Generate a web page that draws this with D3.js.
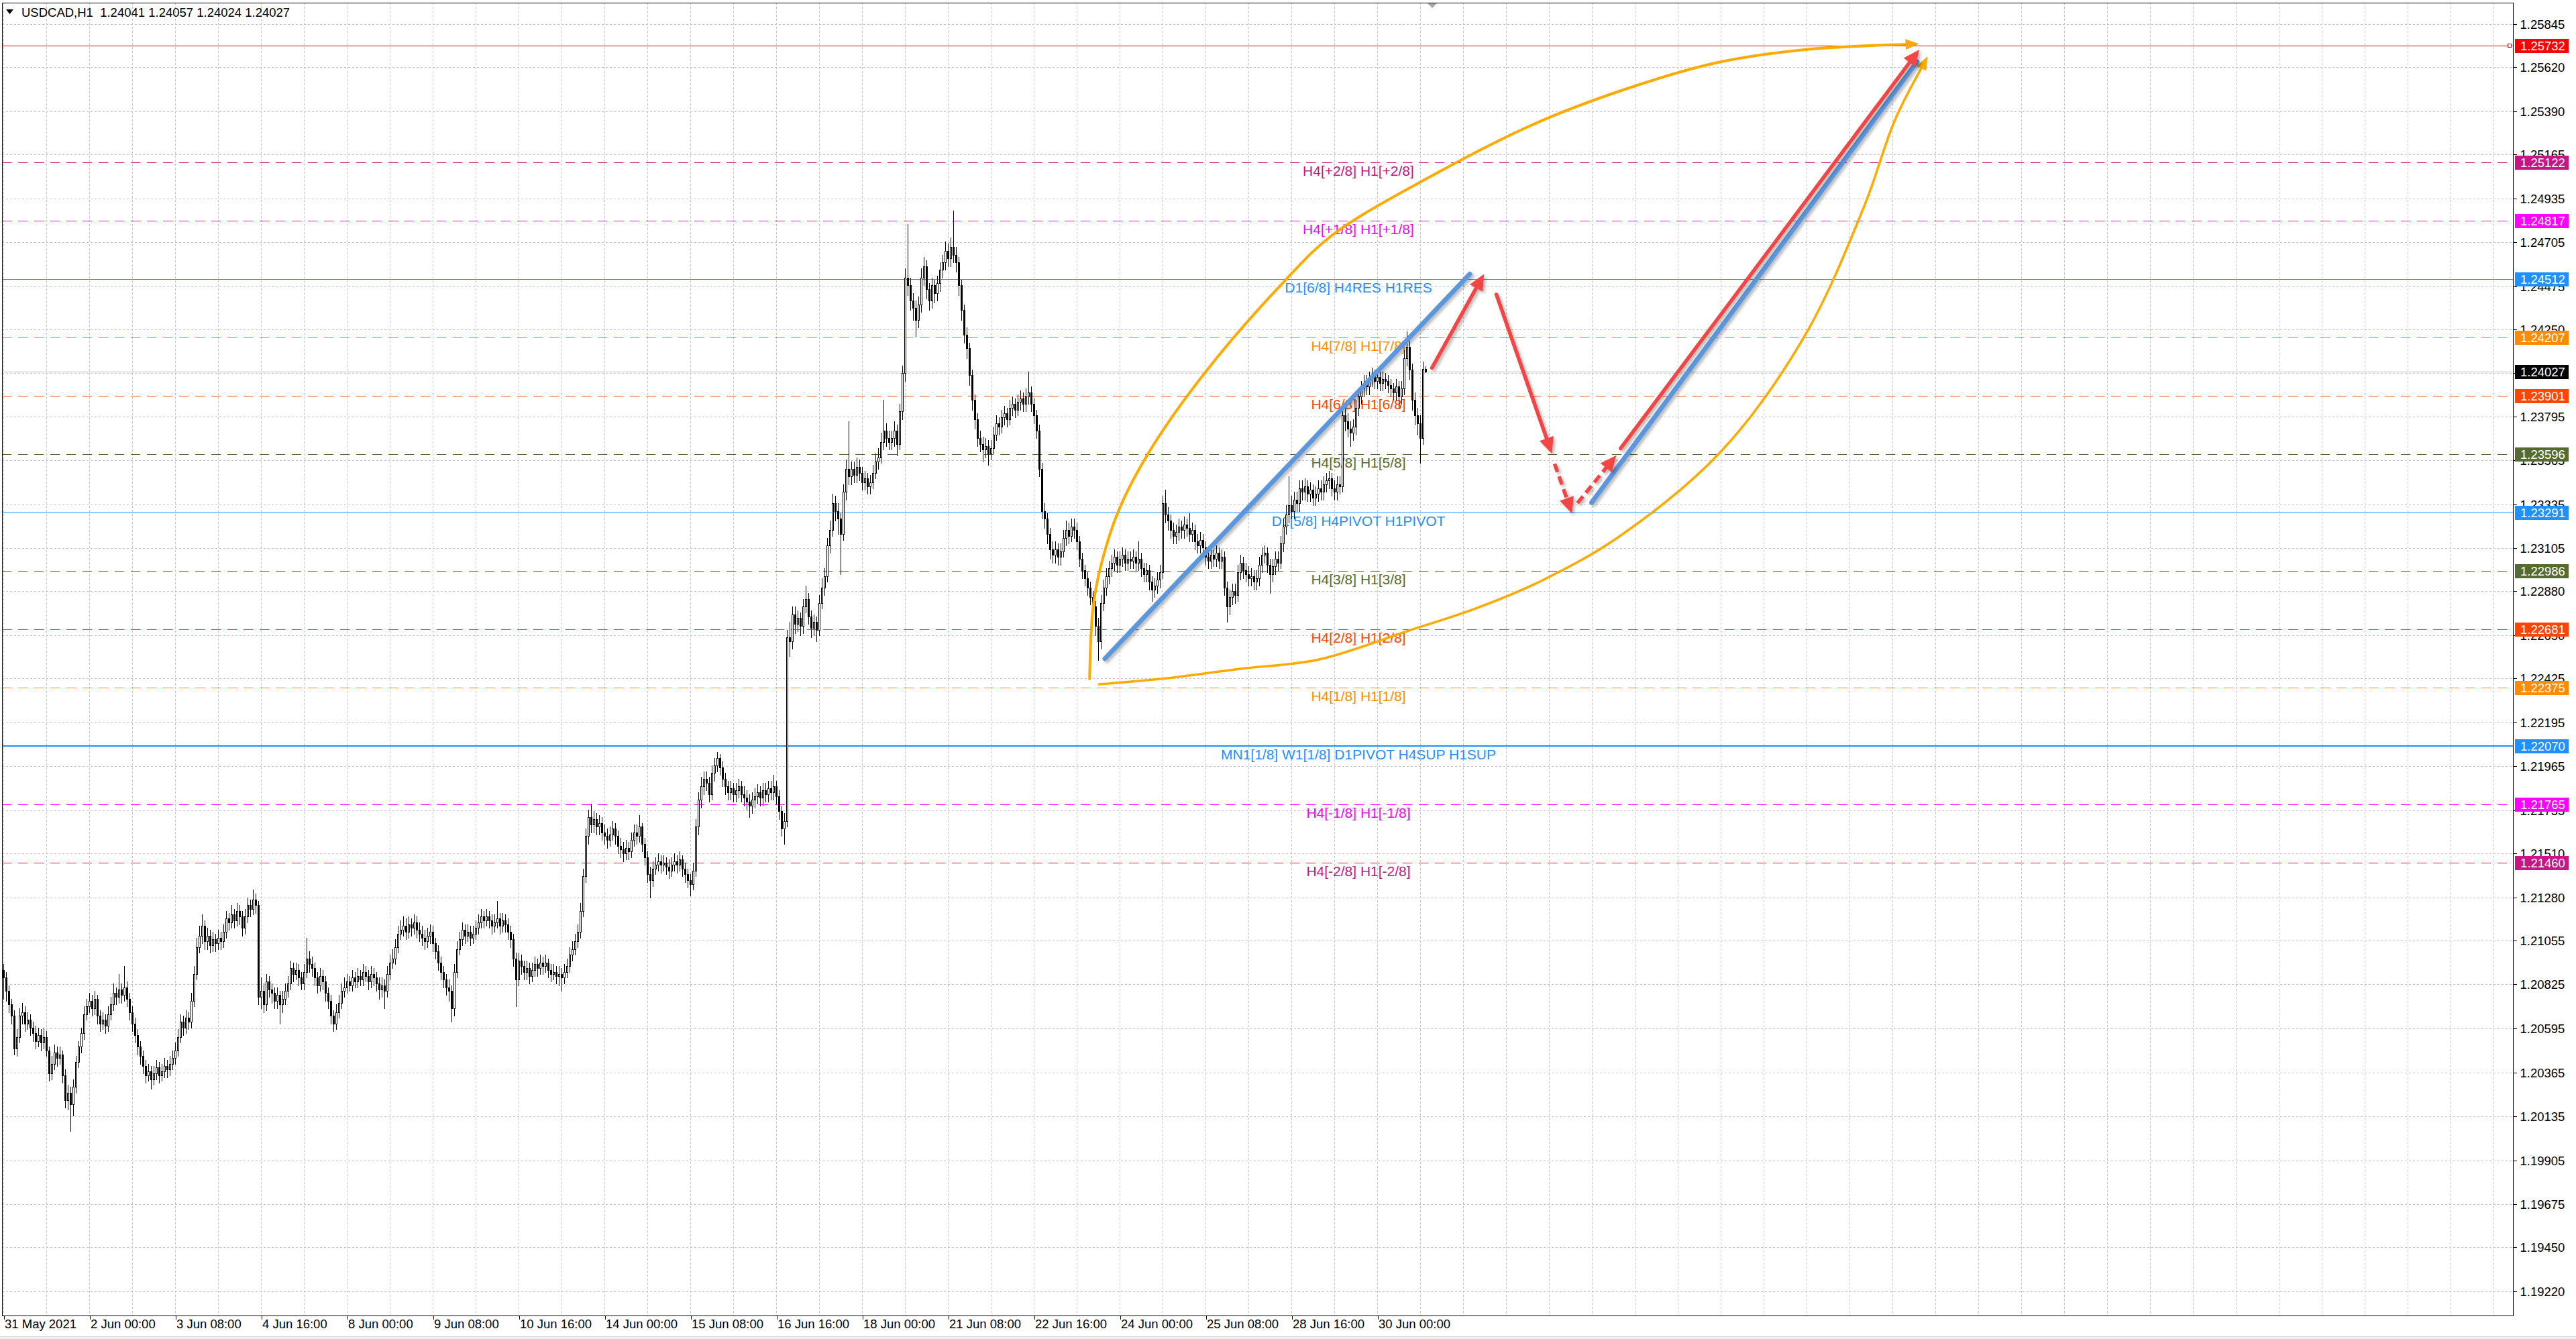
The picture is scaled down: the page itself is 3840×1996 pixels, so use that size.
<!DOCTYPE html>
<html><head><meta charset="utf-8">
<script src="https://cdn.jsdelivr.net/npm/d3@7"></script>
<style>
html,body{margin:0;padding:0;background:#fff;overflow:hidden;}
svg{display:block;}
</style></head>
<body>
<svg id="chart" width="3840" height="1996"></svg>
<script>
// ---------------- DATA ----------------
const symbolTitle = "USDCAD,H1";
const lastQuote = ["1.24041", "1.24057", "1.24024", "1.24027"];
const firstOpen = 1.2090;

const closes = [
1.2086,1.2079,1.2072,1.2066,1.2049,1.2055,1.2066,1.2068,1.2062,1.2064,
1.2060,1.2057,1.2053,1.2056,1.2052,1.2055,1.2048,1.2036,1.2041,1.2047,
1.2044,1.2046,1.2035,1.2022,1.2026,1.2020,1.2029,1.2042,1.2050,1.2057,
1.2067,1.2071,1.2074,1.2070,1.2075,1.2066,1.2062,1.2064,1.2061,1.2067,
1.2072,1.2078,1.2076,1.2080,1.2077,1.2081,1.2075,1.2068,1.2062,1.2056,
1.2050,1.2045,1.2040,1.2035,1.2037,1.2033,1.2036,1.2039,1.2035,1.2037,
1.2040,1.2038,1.2041,1.2044,1.2048,1.2055,1.2063,1.2060,1.2065,1.2063,
1.2074,1.2088,1.2102,1.2108,1.2113,1.2105,1.2108,1.2103,1.2106,1.2104,
1.2107,1.2105,1.2110,1.2117,1.2115,1.2119,1.2116,1.2121,1.2118,1.2112,
1.2118,1.2124,1.2122,1.2127,1.2124,1.2076,1.2079,1.2072,1.2084,1.2080,
1.2078,1.2074,1.2077,1.2072,1.2075,1.2079,1.2083,1.2091,1.2088,1.2090,
1.2086,1.2083,1.2089,1.2096,1.2093,1.2091,1.2086,1.2082,1.2087,1.2084,
1.2078,1.2074,1.2066,1.2062,1.2068,1.2073,1.2079,1.2081,1.2084,1.2082,
1.2086,1.2084,1.2087,1.2085,1.2089,1.2087,1.2084,1.2088,1.2086,1.2083,
1.2080,1.2082,1.2079,1.2088,1.2094,1.2096,1.2102,1.2109,1.2111,1.2113,
1.2110,1.2114,1.2112,1.2115,1.2111,1.2109,1.2107,1.2105,1.2108,1.2110,
1.2104,1.2100,1.2094,1.2089,1.2085,1.2081,1.2079,1.2070,1.2089,1.2101,
1.2106,1.2111,1.2108,1.2110,1.2107,1.2109,1.2112,1.2115,1.2118,1.2116,
1.2118,1.2116,1.2113,1.2115,1.2117,1.2113,1.2116,1.2114,1.2110,1.2106,
1.2096,1.2085,1.2095,1.2092,1.2089,1.2091,1.2087,1.2090,1.2093,1.2091,
1.2094,1.2092,1.2094,1.2090,1.2088,1.2089,1.2087,1.2088,1.2086,1.2089,
1.2092,1.2098,1.2101,1.2105,1.2110,1.2121,1.2139,1.2160,1.2170,1.2166,
1.2169,1.2165,1.2167,1.2162,1.2160,1.2158,1.2161,1.2164,1.2160,1.2155,
1.2153,1.2151,1.2154,1.2152,1.2158,1.2162,1.2160,1.2165,1.2156,1.2149,
1.2140,1.2137,1.2143,1.2145,1.2147,1.2145,1.2146,1.2144,1.2142,1.2145,
1.2147,1.2145,1.2148,1.2143,1.2140,1.2137,1.2135,1.2142,1.2165,1.2179,
1.2186,1.2190,1.2188,1.2182,1.2193,1.2197,1.2201,1.2196,1.2190,1.2186,
1.2183,1.2185,1.2182,1.2184,1.2186,1.2182,1.2180,1.2178,1.2176,1.2179,
1.2181,1.2183,1.2180,1.2184,1.2182,1.2185,1.2183,1.2186,1.2181,1.2173,
1.2164,1.2168,1.2264,1.2262,1.2276,1.2271,1.2274,1.2270,1.2280,1.2284,
1.2275,1.2269,1.2272,1.2268,1.2282,1.2290,1.2296,1.2312,1.2320,1.2334,
1.2330,1.2326,1.2318,1.2340,1.2352,1.2348,1.2352,1.2349,1.2353,1.2350,
1.2345,1.2347,1.2343,1.2345,1.2350,1.2356,1.2358,1.2366,1.2372,1.2368,
1.2366,1.2368,1.2372,1.2365,1.2382,1.2402,1.2452,1.2448,1.2440,1.2436,
1.2430,1.2438,1.2452,1.2458,1.2446,1.2440,1.2448,1.2444,1.2449,1.2456,
1.2460,1.2466,1.2462,1.2468,1.2464,1.2460,1.2448,1.2435,1.2422,1.2415,
1.2401,1.2388,1.2378,1.2368,1.2365,1.2362,1.2364,1.2360,1.2363,1.2370,
1.2376,1.2374,1.2379,1.2381,1.2378,1.2384,1.2386,1.2383,1.2387,1.2389,
1.2386,1.2390,1.2392,1.2386,1.2380,1.2372,1.2352,1.2330,1.2326,1.2318,
1.2310,1.2307,1.2310,1.2306,1.2309,1.2316,1.2320,1.2317,1.2322,1.2320,
1.2314,1.2305,1.2299,1.2295,1.2290,1.2285,1.2280,1.2270,1.2262,1.2282,
1.2290,1.2296,1.2300,1.2303,1.2306,1.2302,1.2305,1.2307,1.2303,1.2305,
1.2304,1.2306,1.2303,1.2305,1.2300,1.2297,1.2299,1.2293,1.2289,1.2291,
1.2294,1.2298,1.2334,1.2328,1.2325,1.2320,1.2317,1.2319,1.2322,1.2320,
1.2323,1.2321,1.2318,1.2320,1.2314,1.2312,1.2315,1.2311,1.2306,1.2304,
1.2307,1.2305,1.2308,1.2304,1.2306,1.2290,1.2280,1.2285,1.2288,1.2286,
1.2298,1.2303,1.2299,1.2297,1.2295,1.2296,1.2293,1.2295,1.2302,1.2307,
1.2308,1.2302,1.2297,1.2301,1.2305,1.2303,1.2313,1.2322,1.2328,1.2333,
1.2330,1.2336,1.2334,1.2342,1.2340,1.2343,1.2339,1.2341,1.2337,1.2339,
1.2342,1.2340,1.2344,1.2346,1.2347,1.2342,1.2340,1.2344,1.2343,1.2380,
1.2377,1.2373,1.2371,1.2374,1.2384,1.2390,1.2394,1.2397,1.2395,1.2399,
1.2401,1.2398,1.2400,1.2397,1.2399,1.2398,1.2396,1.2394,1.2392,1.2395,
1.2390,1.2394,1.2410,1.2416,1.2404,1.2388,1.2380,1.2376,1.2368,1.24041,
1.24027];

const highs = [
1.2093,1.2089,1.2082,1.2075,1.2069,1.2059,1.2070,1.2073,1.2071,1.2068,
1.2067,1.2063,1.2061,1.2060,1.2059,1.2060,1.2058,1.2050,1.2045,1.2051,
1.2050,1.2050,1.2048,1.2038,1.2030,1.2029,1.2033,1.2045,1.2053,1.2060,
1.2071,1.2075,1.2078,1.2077,1.2079,1.2077,1.2069,1.2068,1.2067,1.2071,
1.2076,1.2083,1.2081,1.2088,1.2083,1.2092,1.2084,1.2078,1.2071,1.2065,
1.2059,1.2053,1.2048,1.2043,1.2041,1.2040,1.2040,1.2043,1.2042,1.2041,
1.2044,1.2043,1.2045,1.2048,1.2052,1.2059,1.2067,1.2066,1.2069,1.2068,
1.2078,1.2092,1.2107,1.2113,1.2119,1.2116,1.2112,1.2111,1.2110,1.2109,
1.2111,1.2110,1.2114,1.2121,1.2120,1.2124,1.2122,1.2125,1.2124,1.2121,
1.2122,1.2128,1.2127,1.2132,1.2130,1.2126,1.2086,1.2083,1.2088,1.2087,
1.2083,1.2081,1.2081,1.2079,1.2079,1.2083,1.2087,1.2095,1.2094,1.2094,
1.2093,1.2089,1.2093,1.2107,1.2100,1.2097,1.2094,1.2089,1.2091,1.2090,
1.2087,1.2081,1.2077,1.2069,1.2072,1.2077,1.2083,1.2086,1.2088,1.2087,
1.2090,1.2089,1.2091,1.2090,1.2093,1.2092,1.2090,1.2092,1.2091,1.2089,
1.2086,1.2086,1.2085,1.2092,1.2098,1.2101,1.2106,1.2113,1.2116,1.2118,
1.2117,1.2118,1.2117,1.2119,1.2118,1.2115,1.2113,1.2111,1.2112,1.2114,
1.2113,1.2107,1.2103,1.2097,1.2092,1.2088,1.2085,1.2082,1.2093,1.2105,
1.2110,1.2115,1.2114,1.2114,1.2113,1.2113,1.2116,1.2119,1.2122,1.2121,
1.2122,1.2121,1.2119,1.2119,1.2126,1.2120,1.2120,1.2119,1.2117,1.2113,
1.2109,1.2099,1.2099,1.2098,1.2095,1.2095,1.2094,1.2094,1.2097,1.2096,
1.2098,1.2097,1.2098,1.2096,1.2093,1.2093,1.2092,1.2092,1.2091,1.2093,
1.2096,1.2102,1.2105,1.2109,1.2114,1.2125,1.2143,1.2164,1.2174,1.2177,
1.2173,1.2172,1.2171,1.2170,1.2166,1.2164,1.2165,1.2168,1.2167,1.2163,
1.2159,1.2157,1.2158,1.2157,1.2162,1.2166,1.2166,1.2171,1.2167,1.2159,
1.2152,1.2144,1.2147,1.2149,1.2151,1.2150,1.2150,1.2149,1.2148,1.2149,
1.2151,1.2150,1.2152,1.2150,1.2146,1.2143,1.2140,1.2146,1.2169,1.2183,
1.2191,1.2194,1.2194,1.2191,1.2197,1.2201,1.2204,1.2203,1.2199,1.2193,
1.2189,1.2189,1.2188,1.2188,1.2190,1.2189,1.2186,1.2184,1.2182,1.2183,
1.2185,1.2187,1.2186,1.2188,1.2188,1.2189,1.2189,1.2192,1.2189,1.2184,
1.2176,1.2172,1.2268,1.2272,1.2280,1.2280,1.2278,1.2277,1.2284,1.2291,
1.2287,1.2278,1.2276,1.2275,1.2286,1.2295,1.2300,1.2316,1.2325,1.2339,
1.2338,1.2334,1.2329,1.2344,1.2357,1.2377,1.2356,1.2356,1.2358,1.2357,
1.2353,1.2351,1.2350,1.2349,1.2354,1.2360,1.2363,1.2371,1.2388,1.2376,
1.2372,1.2372,1.2377,1.2375,1.2386,1.2406,1.2457,1.2480,1.2452,1.2444,
1.2440,1.2442,1.2457,1.2463,1.2461,1.2449,1.2452,1.2451,1.2453,1.2460,
1.2464,1.2471,1.2470,1.2473,1.2487,1.2468,1.2463,1.2451,1.2438,1.2426,
1.2418,1.2404,1.2391,1.2381,1.2372,1.2369,1.2368,1.2367,1.2367,1.2374,
1.2380,1.2379,1.2383,1.2385,1.2384,1.2388,1.2390,1.2389,1.2391,1.2393,
1.2392,1.2394,1.2403,1.2395,1.2389,1.2383,1.2375,1.2355,1.2334,1.2329,
1.2321,1.2314,1.2314,1.2313,1.2313,1.2320,1.2325,1.2324,1.2326,1.2326,
1.2324,1.2317,1.2308,1.2302,1.2298,1.2293,1.2288,1.2283,1.2274,1.2286,
1.2294,1.2300,1.2304,1.2307,1.2310,1.2309,1.2309,1.2311,1.2310,1.2309,
1.2309,1.2310,1.2309,1.2314,1.2308,1.2303,1.2303,1.2302,1.2296,1.2295,
1.2298,1.2302,1.2338,1.2341,1.2332,1.2328,1.2324,1.2323,1.2326,1.2325,
1.2327,1.2326,1.2329,1.2324,1.2323,1.2318,1.2319,1.2318,1.2314,1.2310,
1.2311,1.2310,1.2312,1.2311,1.2310,1.2309,1.2293,1.2289,1.2292,1.2292,
1.2302,1.2307,1.2306,1.2303,1.2301,1.2300,1.2299,1.2299,1.2306,1.2311,
1.2312,1.2311,1.2305,1.2305,1.2309,1.2309,1.2317,1.2326,1.2333,1.2348,
1.2338,1.2340,1.2340,1.2346,1.2346,1.2347,1.2346,1.2345,1.2344,1.2343,
1.2346,1.2346,1.2348,1.2350,1.2351,1.2350,1.2346,1.2348,1.2348,1.2385,
1.2384,1.2381,1.2377,1.2378,1.2388,1.2394,1.2398,1.2401,1.2401,1.2403,
1.2405,1.2404,1.2404,1.2403,1.2403,1.2402,1.2401,1.2399,1.2397,1.2399,
1.2398,1.2398,1.2414,1.2424,1.2419,1.2407,1.2392,1.2384,1.2380,1.2408,
1.24057];

const lows = [
1.2075,1.2074,1.2068,1.2062,1.2046,1.2045,1.2052,1.2062,1.2058,1.2059,
1.2056,1.2053,1.2049,1.2050,1.2048,1.2049,1.2045,1.2032,1.2033,1.2038,
1.2040,1.2041,1.2031,1.2018,1.2017,1.2006,1.2014,1.2026,1.2039,1.2047,
1.2054,1.2064,1.2068,1.2066,1.2067,1.2062,1.2058,1.2059,1.2057,1.2058,
1.2064,1.2069,1.2072,1.2073,1.2073,1.2074,1.2071,1.2064,1.2058,1.2052,
1.2046,1.2041,1.2036,1.2031,1.2032,1.2028,1.2030,1.2033,1.2031,1.2032,
1.2034,1.2034,1.2035,1.2038,1.2041,1.2045,1.2052,1.2056,1.2057,1.2059,
1.2060,1.2071,1.2085,1.2099,1.2104,1.2101,1.2101,1.2099,1.2100,1.2100,
1.2101,1.2101,1.2102,1.2107,1.2111,1.2112,1.2112,1.2113,1.2114,1.2108,
1.2109,1.2115,1.2118,1.2119,1.2120,1.2072,1.2070,1.2068,1.2069,1.2076,
1.2073,1.2070,1.2070,1.2062,1.2068,1.2072,1.2076,1.2080,1.2084,1.2085,
1.2082,1.2080,1.2080,1.2086,1.2089,1.2087,1.2082,1.2078,1.2079,1.2080,
1.2074,1.2070,1.2062,1.2058,1.2059,1.2065,1.2070,1.2076,1.2078,1.2079,
1.2079,1.2081,1.2081,1.2082,1.2082,1.2084,1.2080,1.2081,1.2082,1.2079,
1.2075,1.2076,1.2070,1.2076,1.2085,1.2091,1.2093,1.2099,1.2106,1.2108,
1.2106,1.2107,1.2108,1.2109,1.2107,1.2105,1.2103,1.2101,1.2102,1.2104,
1.2100,1.2096,1.2090,1.2085,1.2081,1.2077,1.2074,1.2063,1.2066,1.2086,
1.2098,1.2103,1.2104,1.2105,1.2103,1.2104,1.2106,1.2109,1.2112,1.2112,
1.2113,1.2112,1.2109,1.2110,1.2112,1.2109,1.2110,1.2110,1.2106,1.2102,
1.2092,1.2071,1.2082,1.2088,1.2085,1.2085,1.2083,1.2084,1.2087,1.2087,
1.2088,1.2088,1.2089,1.2086,1.2084,1.2085,1.2083,1.2082,1.2079,1.2083,
1.2086,1.2089,1.2095,1.2098,1.2102,1.2107,1.2118,1.2136,1.2156,1.2162,
1.2162,1.2161,1.2161,1.2158,1.2156,1.2154,1.2155,1.2158,1.2156,1.2151,
1.2149,1.2147,1.2148,1.2148,1.2149,1.2155,1.2156,1.2157,1.2152,1.2145,
1.2136,1.2128,1.2134,1.2140,1.2142,1.2141,1.2142,1.2140,1.2138,1.2139,
1.2142,1.2141,1.2142,1.2139,1.2136,1.2133,1.2129,1.2132,1.2139,1.2161,
1.2175,1.2182,1.2184,1.2178,1.2179,1.2189,1.2194,1.2192,1.2186,1.2182,
1.2179,1.2179,1.2178,1.2178,1.2180,1.2178,1.2176,1.2174,1.2170,1.2172,
1.2175,1.2177,1.2176,1.2176,1.2178,1.2178,1.2179,1.2179,1.2177,1.2169,
1.2160,1.2156,1.2165,1.2254,1.2258,1.2266,1.2267,1.2265,1.2266,1.2277,
1.2271,1.2264,1.2265,1.2262,1.2265,1.2279,1.2286,1.2293,1.2308,1.2317,
1.2325,1.2318,1.2297,1.2315,1.2336,1.2344,1.2344,1.2345,1.2345,1.2346,
1.2341,1.2341,1.2339,1.2339,1.2342,1.2347,1.2352,1.2355,1.2362,1.2364,
1.2362,1.2362,1.2364,1.2359,1.2362,1.2378,1.2398,1.2443,1.2435,1.2430,
1.2421,1.2426,1.2434,1.2448,1.2441,1.2435,1.2436,1.2439,1.2440,1.2445,
1.2452,1.2456,1.2458,1.2458,1.2460,1.2455,1.2443,1.2430,1.2418,1.2410,
1.2396,1.2383,1.2373,1.2364,1.2361,1.2356,1.2358,1.2354,1.2357,1.2360,
1.2367,1.2370,1.2371,1.2375,1.2374,1.2375,1.2380,1.2379,1.2380,1.2383,
1.2382,1.2382,1.2386,1.2382,1.2376,1.2368,1.2348,1.2326,1.2321,1.2313,
1.2305,1.2303,1.2303,1.2302,1.2302,1.2306,1.2312,1.2313,1.2314,1.2316,
1.2310,1.2301,1.2295,1.2291,1.2286,1.2281,1.2276,1.2265,1.2252,1.2258,
1.2278,1.2286,1.2292,1.2296,1.2299,1.2298,1.2298,1.2301,1.2299,1.2299,
1.2300,1.2300,1.2299,1.2299,1.2296,1.2293,1.2293,1.2289,1.2283,1.2285,
1.2287,1.2290,1.2295,1.2324,1.2320,1.2316,1.2313,1.2313,1.2315,1.2316,
1.2316,1.2317,1.2314,1.2314,1.2310,1.2308,1.2308,1.2307,1.2302,1.2300,
1.2300,1.2301,1.2301,1.2300,1.2300,1.2286,1.2272,1.2276,1.2281,1.2282,
1.2283,1.2294,1.2295,1.2293,1.2291,1.2291,1.2289,1.2289,1.2291,1.2298,
1.2303,1.2298,1.2287,1.2293,1.2297,1.2299,1.2300,1.2309,1.2318,1.2324,
1.2326,1.2326,1.2330,1.2330,1.2336,1.2336,1.2335,1.2335,1.2333,1.2333,
1.2335,1.2336,1.2336,1.2340,1.2342,1.2338,1.2336,1.2336,1.2339,1.2340,
1.2372,1.2369,1.2364,1.2367,1.2370,1.2380,1.2386,1.2390,1.2391,1.2391,
1.2395,1.2394,1.2394,1.2393,1.2393,1.2394,1.2392,1.2390,1.2388,1.2388,
1.2384,1.2386,1.2391,1.2406,1.2399,1.2383,1.2375,1.2370,1.2355,1.2365,
1.24024];

const timeTickBars = [0,32,64,96,128,160,192,224,256,288,320,352,384,416,448,480,512];
const timeTickLabels = ["31 May 2021","2 Jun 00:00","3 Jun 08:00","4 Jun 16:00","8 Jun 00:00",
  "9 Jun 08:00","10 Jun 16:00","14 Jun 00:00","15 Jun 08:00","16 Jun 16:00","18 Jun 00:00",
  "21 Jun 08:00","22 Jun 16:00","24 Jun 00:00","25 Jun 08:00","28 Jun 16:00","30 Jun 00:00"];

const priceTicks = [1.25845,1.25620,1.25390,1.25165,1.24935,1.24705,1.24475,1.24250,1.24020,
  1.23795,1.23565,1.23335,1.23105,1.22880,1.22650,1.22425,1.22195,1.21965,1.21735,1.21510,
  1.21280,1.21055,1.20825,1.20595,1.20365,1.20135,1.19905,1.19675,1.19450,1.19220];
const priceRange = [1.19094, 1.25961];   // visible price window of the chart
const visibleBars = 935;                 // bar slots across the window

const levelPrices = [1.25732,1.25122,1.24817,1.24512,1.24207,1.24027,1.23901,1.23596,
  1.23291,1.22986,1.22681,1.22375,1.22070,1.21765,1.21460];
const levelTexts = ["","H4[+2/8] H1[+2/8]","H4[+1/8] H1[+1/8]","D1[6/8] H4RES H1RES",
  "H4[7/8] H1[7/8]","","H4[6/8] H1[6/8]","H4[5/8] H1[5/8]","D1[5/8] H4PIVOT H1PIVOT",
  "H4[3/8] H1[3/8]","H4[2/8] H1[2/8]","H4[1/8] H1[1/8]",
  "MN1[1/8] W1[1/8] D1PIVOT H4SUP H1SUP","H4[-1/8] H1[-1/8]","H4[-2/8] H1[-2/8]"];
const levelKinds = ["target","p2","p1","res","o78","price","o68","o58","pivot","o38",
  "o28","o18","sup","m1","m2"];
const levelLabelBar = 505;

// hand-drawn objects (bar index, price)
const upperCurve = [[404.8,1.22422],[406.1,1.22794],[408.9,1.23008],[415.6,1.23302],
  [426.6,1.23600],[447.9,1.24025],[477.9,1.24509],[495.4,1.24744],[531.9,1.25049],
  [570.9,1.25326],[604.4,1.25505],[637.9,1.25642],[671.4,1.25712],[713.9,1.25743]];
const lowerCurve = [[408.3,1.22394],[431.1,1.22422],[461.1,1.22475],[490.4,1.22524],
  [523.6,1.22674],[548.6,1.22790],[573.6,1.22938],[602.1,1.23166],[640.1,1.23611],
  [671.4,1.24218],[693.6,1.24898],[704.9,1.25343],[717.1,1.25677]];
const blueTrendLines = [
  [[410.5,1.22528],[546.5,1.24539]],
  [[591.9,1.23344],[713.2,1.25649]]];
const redArrows = [
  {from:[532.4,1.24048], to:[551.8,1.24539], dashed:false},
  {from:[556.4,1.24432], to:[577.1,1.23600], dashed:false},
  {from:[578.1,1.23547], to:[584.6,1.23287], dashed:true},
  {from:[586.6,1.23341], to:[601.1,1.23591], dashed:true},
  {from:[602.7,1.23627], to:[714.0,1.25712], dashed:false}];
const shiftMarkerBar = 532.5;

// ---------------- STYLES ----------------
const levelStyle = {
  target:{color:"#ff0000", dash:null, w:1, box:"#ff0000"},
  p2:{color:"#c71585", dash:"14,10", w:1, box:"#c71585"},
  p1:{color:"#ff00ff", dash:"14,10", w:1, box:"#ff00ff"},
  res:{color:"#1e90ff", dash:null, w:1, box:"#1e90ff"},
  o78:{color:"#ff8c00", dash:"14,10", w:1, box:"#ff8c00"},
  price:{color:"#c0c0c0", dash:null, w:1, box:"#000000"},
  o68:{color:"#ff4500", dash:"14,10", w:1, box:"#ff4500"},
  o58:{color:"#556b2f", dash:"14,10", w:1, box:"#556b2f"},
  pivot:{color:"#1e90ff", dash:null, w:1, box:"#1e90ff"},
  o38:{color:"#556b2f", dash:"14,10", w:1, box:"#556b2f"},
  o28:{color:"#ff4500", dash:"14,10", w:1, box:"#ff4500"},
  o18:{color:"#ff8c00", dash:"14,10", w:1, box:"#ff8c00"},
  sup:{color:"#1e90ff", dash:null, w:2, box:"#1e90ff"},
  m1:{color:"#ff00ff", dash:"14,10", w:1, box:"#ff00ff"},
  m2:{color:"#c71585", dash:"14,10", w:1, box:"#c71585"}
};
const FONT = "'Liberation Sans', Arial, sans-serif";

// ---------------- CHART ----------------
const W = 3840, H = 1996;
const P = {left:3, top:4, right:3746, bottom:1961};
const svg = d3.select("#chart");
const xs = d3.scaleLinear().domain([0, visibleBars]).range([5, 5 + 4*visibleBars]);
const ys = d3.scaleLinear().domain(priceRange).range([P.bottom, P.top - 1]);

const defs = svg.append("defs");
defs.append("clipPath").attr("id","plotClip").append("rect")
  .attr("x",P.left+1).attr("y",P.top+1).attr("width",P.right-P.left-1).attr("height",P.bottom-P.top-1);
const flt = defs.append("filter").attr("id","shadow").attr("filterUnits","userSpaceOnUse")
  .attr("x",0).attr("y",0).attr("width",W).attr("height",H);
flt.append("feDropShadow").attr("dx",3).attr("dy",3).attr("stdDeviation",2)
  .attr("flood-color","#000").attr("flood-opacity",0.28);

svg.append("rect").attr("width",W).attr("height",H).attr("fill","#ffffff");
svg.append("rect").attr("x",0).attr("y",1993).attr("width",W).attr("height",3).attr("fill","#f0f0f0");
svg.append("line").attr("x1",0).attr("x2",W).attr("y1",1992.5).attr("y2",1992.5).attr("stroke","#d4d4d4");

const plotG = svg.append("g").attr("clip-path","url(#plotClip)");

// grid
const gridG = plotG.append("g").attr("stroke","#c3c3c3").attr("stroke-width",1)
  .attr("stroke-dasharray","3,3").attr("shape-rendering","crispEdges");
gridG.selectAll("line.h").data(priceTicks).join("line").attr("class","h")
  .attr("x1",P.left).attr("x2",P.right)
  .attr("y1",d=>Math.round(ys(d))+0.5).attr("y2",d=>Math.round(ys(d))+0.5);
const gridBars = d3.range(0, visibleBars, 16);
gridG.selectAll("line.v").data(gridBars).join("line").attr("class","v")
  .attr("y1",P.top).attr("y2",P.bottom)
  .attr("x1",d=>Math.round(xs(d))+0.5).attr("x2",d=>Math.round(xs(d))+0.5);

// levels
const levels = levelPrices.map((p,i)=>({p, text:levelTexts[i], st:levelStyle[levelKinds[i]]}));
const levelG = plotG.append("g").attr("shape-rendering","crispEdges");
levelG.selectAll("line").data(levels).join("line")
  .attr("x1",P.left).attr("x2",P.right)
  .attr("y1",d=>Math.round(ys(d.p))+(d.st.w===2?0:0.5))
  .attr("y2",d=>Math.round(ys(d.p))+(d.st.w===2?0:0.5))
  .attr("stroke",d=>d.st.color).attr("stroke-width",d=>d.st.w)
  .attr("stroke-dasharray",d=>d.st.dash);
// small square at right end of target line
levels.filter(d=>levelKinds[levelPrices.indexOf(d.p)]==="target").forEach(d=>{
  plotG.append("rect").attr("x",P.right-7.5).attr("y",Math.round(ys(d.p))-2.5)
    .attr("width",5).attr("height",5).attr("fill","#fff").attr("stroke",d.st.color);
});
plotG.append("g").selectAll("text").data(levels.filter(d=>d.text)).join("text")
  .attr("x",xs(levelLabelBar)).attr("y",d=>Math.round(ys(d.p))+20)
  .attr("text-anchor","middle").attr("font-family",FONT).attr("font-size","21px")
  .attr("fill",d=>d.st.color).text(d=>d.text);

// candles
const bars = closes.map((c,i)=>({i, o: i===0 ? firstOpen : closes[i-1], h: highs[i], l: lows[i], c}));
const candleG = plotG.append("g").attr("shape-rendering","crispEdges");
candleG.selectAll("line").data(bars).join("line")
  .attr("x1",d=>Math.round(xs(d.i))+0.5).attr("x2",d=>Math.round(xs(d.i))+0.5)
  .attr("y1",d=>Math.round(ys(d.h))).attr("y2",d=>Math.round(ys(d.l))+1)
  .attr("stroke","#000").attr("stroke-width",1);
const bodyTop = d=>Math.round(ys(Math.max(d.o,d.c)));
const bodyH = d=>Math.max(1, Math.round(ys(Math.min(d.o,d.c))) - bodyTop(d) + 1);
candleG.selectAll("rect.body").data(bars).join("rect").attr("class","body")
  .attr("x",d=>Math.round(xs(d.i))-1).attr("width",3)
  .attr("y",bodyTop).attr("height",bodyH).attr("fill","#000");
candleG.selectAll("rect.inner").data(bars.filter(d=>d.c>d.o && bodyH(d)>2)).join("rect").attr("class","inner")
  .attr("x",d=>Math.round(xs(d.i))).attr("width",1)
  .attr("y",d=>bodyTop(d)+1).attr("height",d=>bodyH(d)-2).attr("fill","#fff");

// drawings
const px = d=>[xs(d[0]), ys(d[1])];
function arrowHead(g, tip, dir, len, hw, color){
  const [tx,ty] = tip, [ux,uy] = dir;
  const bx = tx-ux*len, by = ty-uy*len;
  g.append("path").attr("d",`M${tx},${ty}L${bx-uy*hw},${by+ux*hw}L${bx+uy*hw},${by-ux*hw}Z`)
    .attr("fill",color);
  return [bx,by];
}
const drawG = plotG.append("g");
// orange curves
[ {pts:upperCurve, w:4}, {pts:lowerCurve, w:3.5} ].forEach(cv=>{
  const p = cv.pts.map(px);
  const a = p[p.length-2], b = p[p.length-1];
  const L = Math.hypot(b[0]-a[0], b[1]-a[1]);
  const dir = [(b[0]-a[0])/L, (b[1]-a[1])/L];
  const g = drawG.append("g");
  const base = [b[0]-dir[0]*16, b[1]-dir[1]*16];
  const p2 = p.slice(0,-1).concat([base]);
  g.append("path").attr("d", d3.line().curve(d3.curveCatmullRom)(p2))
    .attr("fill","none").attr("stroke","#ffaa00").attr("stroke-width",cv.w).attr("stroke-linecap","round");
  arrowHead(g, b, dir, 20, 8, "#ffaa00");
});
// blue trend lines
const blueG = drawG.append("g").attr("filter","url(#shadow)");
blueTrendLines.forEach(ln=>{
  const a = px(ln[0]), b = px(ln[1]);
  blueG.append("line").attr("x1",a[0]).attr("y1",a[1]).attr("x2",b[0]).attr("y2",b[1])
    .attr("stroke","#5b96db").attr("stroke-width",7).attr("stroke-linecap","round");
});
// red arrows
const redG = drawG.append("g").attr("filter","url(#shadow)");
redArrows.forEach(ar=>{
  const a = px(ar.from), b = px(ar.to);
  const L = Math.hypot(b[0]-a[0], b[1]-a[1]);
  const dir = [(b[0]-a[0])/L, (b[1]-a[1])/L];
  const g = redG.append("g");
  const base = arrowHead(g, b, dir, 24, 11, "#f24444");
  g.insert("line","path").attr("x1",a[0]).attr("y1",a[1]).attr("x2",base[0]+dir[0]*2).attr("y2",base[1]+dir[1]*2)
    .attr("stroke","#f24444").attr("stroke-width",5.5)
    .attr("stroke-linecap", ar.dashed ? "butt" : "round")
    .attr("stroke-dasharray", ar.dashed ? "13,7" : null);
});

// frame
svg.append("rect").attr("x",P.left+0.5).attr("y",P.top+0.5)
  .attr("width",P.right-P.left).attr("height",P.bottom-P.top)
  .attr("fill","none").attr("stroke","#000").attr("stroke-width",1).attr("shape-rendering","crispEdges");

// shift marker
svg.append("path").attr("d",`M${xs(shiftMarkerBar)-7},${P.top+1}L${xs(shiftMarkerBar)+7},${P.top+1}L${xs(shiftMarkerBar)},${P.top+8}Z`)
  .attr("fill","#a8a8a8");

// right price axis
const yAxis = d3.axisRight(ys).tickValues(priceTicks).tickSize(5).tickPadding(6)
  .tickFormat(d=>d.toFixed(5));
const yAxisG = svg.append("g").attr("transform",`translate(${P.right+0.5},0)`).call(yAxis);
yAxisG.select(".domain").remove();
yAxisG.selectAll(".tick line").attr("stroke","#000").attr("shape-rendering","crispEdges");
yAxisG.selectAll(".tick text").attr("font-family",FONT).attr("font-size","18.5px")
  .attr("fill","#000").attr("x",10).attr("dy","0.35em");

// bottom time axis
const xAxis = d3.axisBottom(xs).tickValues(timeTickBars).tickSize(5)
  .tickFormat((d,i)=>timeTickLabels[i]);
const xAxisG = svg.append("g").attr("transform",`translate(0.5,${P.bottom+0.5})`).call(xAxis);
xAxisG.select(".domain").remove();
xAxisG.selectAll(".tick line").attr("stroke","#000").attr("shape-rendering","crispEdges");
xAxisG.selectAll(".tick text").attr("font-family",FONT).attr("font-size","18.5px")
  .attr("fill","#000").attr("text-anchor","start").attr("x",1).attr("y",18).attr("dy","0");

// level price boxes
const boxG = svg.append("g");
levels.forEach(d=>{
  const yy = Math.round(ys(d.p));
  boxG.append("rect").attr("x",P.right+3).attr("y",yy-10).attr("width",80).attr("height",21)
    .attr("fill",d.st.box);
  boxG.append("text").attr("x",P.right+11).attr("y",yy).attr("dy","0.36em")
    .attr("font-family",FONT).attr("font-size","18.5px").attr("fill","#fff")
    .text(d.p.toFixed(5));
});

// title
svg.append("path").attr("d","M9,14L20,14L14.5,21Z").attr("fill","#000");
svg.append("text").attr("x",32).attr("y",25).attr("font-family",FONT).attr("font-size","18.5px")
  .attr("fill","#000").attr("xml:space","preserve")
  .text(symbolTitle + "  " + lastQuote.join(" "));
</script>
</body></html>
